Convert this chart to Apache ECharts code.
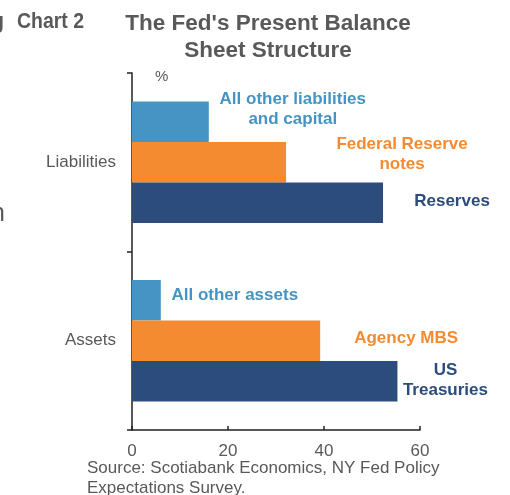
<!DOCTYPE html>
<html>
<head>
<meta charset="utf-8">
<script src="https://cdn.jsdelivr.net/npm/echarts@6/dist/echarts.min.js"></script>
<style>
  html, body { margin: 0; padding: 0; background: #fff; }
  #chart { width: 510px; height: 495px; }
</style>
</head>
<body>
<div id="chart"></div>
<script>
// Share of the Fed balance sheet, % of each side
const categories = ['Assets', 'Liabilities'];
const otherShare = [6.0, 16.0];
const secondShare = [39.2, 32.1];
const mainShare = [55.3, 52.3];

// Component names shown beside the bars
const otherNames = ['All other assets', 'All other liabilities\nand capital'];
const secondNames = ['Agency MBS', 'Federal Reserve\nnotes'];
const mainNames = ['US\nTreasuries', 'Reserves'];

// Value axis ticks
const xTicks = [0, 20, 40, 60];

const GREY = '#595959';
const LIGHT = '#4594c3';
const ORANGE = '#f48b31';
const NAVY = '#2b4c7c';
const FONT = '"Liberation Sans", Arial, sans-serif';

// label placement beside each bar: [dx from bar end, dy from bar middle]
const otherOffsets = [[74, -5], [84, -12]];
const secondOffsets = [[86, -2], [116, -8]];
const mainOffsets = [[48, -1], [69, -1.5]];

function items(values, names, offsets, color) {
  return values.map((v, i) => ({
    value: v,
    label: {
      formatter: names[i],
      offset: offsets[i],
      color: color
    }
  }));
}

const barLabel = {
  show: true,
  position: 'right',
  distance: 0,
  align: 'center',
  verticalAlign: 'middle',
  fontFamily: FONT,
  fontSize: 17,
  fontWeight: 'bold',
  lineHeight: 20
};

const chart = echarts.init(document.getElementById('chart'), null, { renderer: 'canvas' });

chart.setOption({
  animation: false,
  backgroundColor: '#ffffff',
  title: [
    {
      text: "The Fed's Present Balance\nSheet Structure",
      left: 268,
      top: 10,
      padding: 0,
      textAlign: 'center',
      textStyle: { fontFamily: FONT, fontSize: 22.5, fontWeight: 'bold', color: GREY, lineHeight: 27 }
    },
    {
      text: 'Source: Scotiabank Economics, NY Fed Policy\nExpectations Survey.',
      left: 87,
      top: 458,
      padding: 0,
      textStyle: { fontFamily: FONT, fontSize: 17, fontWeight: 'normal', color: GREY, lineHeight: 20 }
    }
  ],
  graphic: [
    // condensed chart number heading
    { type: 'text', x: 17, y: 10, scaleX: 0.865, style: { text: 'Chart 2', font: 'bold 22.5px "Liberation Sans", Arial, sans-serif', fill: GREY } },
    { type: 'text', x: -8, y: 10, scaleX: 0.865, style: { text: 'g', font: 'bold 22.5px "Liberation Sans", Arial, sans-serif', fill: GREY } },
    { type: 'text', x: -9, y: 202, style: { text: 'n', font: '25px "Liberation Sans", sans-serif', fill: GREY } }
  ],
  grid: { left: 132, right: 90, top: 73, bottom: 65, containLabel: false },
  xAxis: {
    type: 'value',
    min: xTicks[0],
    max: xTicks[xTicks.length - 1],
    interval: xTicks[1] - xTicks[0],
    splitLine: { show: false },
    axisLine: { show: true, lineStyle: { color: '#222', width: 1.5 } },
    axisTick: { show: true, inside: true, length: 4, lineStyle: { color: '#222', width: 1.5 } },
    axisLabel: { margin: 13, color: GREY, fontFamily: FONT, fontSize: 17 }
  },
  yAxis: {
    type: 'category',
    data: categories,
    name: '%',
    nameLocation: 'end',
    nameGap: -4,
    nameTextStyle: { align: 'left', verticalAlign: 'middle', padding: [0, 0, 0, 23], color: GREY, fontFamily: FONT, fontSize: 15 },
    axisLine: { show: true, lineStyle: { color: '#222', width: 1.5 } },
    axisTick: { show: true, length: 5, lineStyle: { color: '#222', width: 1.5 } },
    axisLabel: { margin: 16, color: GREY, fontFamily: FONT, fontSize: 17 }
  },
  series: [
    {
      name: 'Other',
      type: 'bar',
      barGap: '0%',
      barCategoryGap: '32%',
      itemStyle: { color: LIGHT },
      label: barLabel,
      data: items(otherShare, otherNames, otherOffsets, LIGHT)
    },
    {
      name: 'Second',
      type: 'bar',
      barGap: '0%',
      barCategoryGap: '32%',
      itemStyle: { color: ORANGE },
      label: barLabel,
      data: items(secondShare, secondNames, secondOffsets, ORANGE)
    },
    {
      name: 'Main',
      type: 'bar',
      barGap: '0%',
      barCategoryGap: '32%',
      itemStyle: { color: NAVY },
      label: barLabel,
      data: items(mainShare, mainNames, mainOffsets, NAVY)
    }
  ]
});
</script>
</body>
</html>
